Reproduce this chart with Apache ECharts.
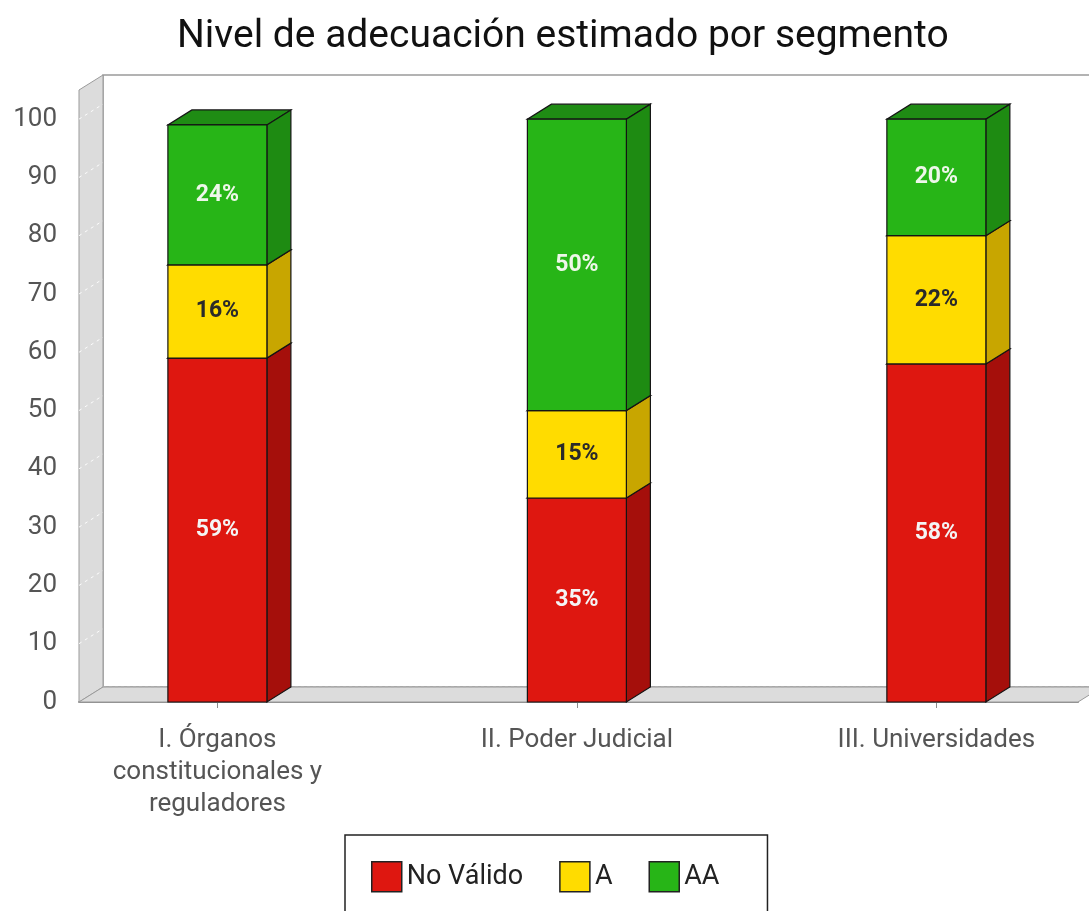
<!DOCTYPE html>
<html>
<head>
<meta charset="utf-8">
<title>Nivel de adecuación estimado por segmento</title>
<script src="https://cdn.jsdelivr.net/npm/echarts@6/dist/echarts.min.js"></script>
<style>
    html, body { margin: 0; padding: 0; background: #fff; }
    #chart { width: 1089px; height: 911px; }
</style>
</head>
<body>
<div id="chart"></div>
<script>
    // datos
    const categories = ['I. Órganos\nconstitucionales y\nreguladores', 'II. Poder Judicial', 'III. Universidades'];
    const seriesNames = ['No Válido', 'A', 'AA'];
    const noValido = [59, 35, 58];
    const nivelA = [16, 15, 22];
    const nivelAA = [24, 50, 20];
    const yTicks = [0, 10, 20, 30, 40, 50, 60, 70, 80, 90, 100];

    // estilo de las barras "3D"
    const FONT = 'Roboto, "Noto Sans", sans-serif';
    const BAR_W = 99;
    const DX = 24, DY = 15;
    const X_MIN = -0.385, X_MAX = 2.394, Y_MAX = 105;
    const palette = [
        { front: '#de1710', side: '#a50f0b', top: '#b8120d', label: '#f4f4f4' },
        { front: '#ffdc00', side: '#c8a600', top: '#d9b800', label: '#2a2a2a' },
        { front: '#27b517', side: '#1e8b12', top: '#1f8c14', label: '#eef7ea' }
    ];

    const levels = [noValido, nivelA, nivelAA];

    function stackData(idx) {
        return categories.map(function (c, i) {
            let start = 0;
            for (let k = 0; k < idx; k++) start += levels[k][i];
            return [i, start, start + levels[idx][i], levels[idx][i]];
        });
    }

    function renderBar(params, api) {
        const pal = palette[params.seriesIndex - 1];
        const lo = api.coord([api.value(0), api.value(1)]);
        const hi = api.coord([api.value(0), api.value(2)]);
        const l = lo[0] - BAR_W / 2, r = lo[0] + BAR_W / 2;
        const yb = lo[1], yt = hi[1];
        const edge = { stroke: '#141414', lineWidth: 1.2 };
        return {
            type: 'group',
            children: [
                { type: 'polygon', shape: { points: [[l, yt], [r, yt], [r + DX, yt - DY], [l + DX, yt - DY]] },
                  style: Object.assign({ fill: pal.top }, edge) },
                { type: 'polygon', shape: { points: [[r, yb], [r, yt], [r + DX, yt - DY], [r + DX, yb - DY]] },
                  style: Object.assign({ fill: pal.side }, edge) },
                { type: 'rect', shape: { x: l, y: yt, width: BAR_W, height: yb - yt },
                  style: Object.assign({ fill: pal.front }, edge) },
                { type: 'text', x: lo[0], y: (yb + yt) / 2,
                  style: { text: api.value(3) + '%', fill: pal.label, font: 'bold 23px ' + FONT,
                           align: 'center', verticalAlign: 'middle' } }
            ]
        };
    }

    function renderFrame(params, api) {
        const a = api.coord([X_MIN, 0]);
        const b = api.coord([X_MAX, 0]);
        const c = api.coord([X_MIN, Y_MAX]);
        const wall = { fill: '#dcdcdc', stroke: '#9a9a9a', lineWidth: 1 };
        const children = [
            { type: 'rect', shape: { x: c[0] + DX, y: c[1] - DY, width: b[0] - a[0], height: a[1] - c[1] },
              style: { fill: '#fff', stroke: '#9a9a9a', lineWidth: 1.5 } },
            { type: 'polygon', shape: { points: [a, c, [c[0] + DX, c[1] - DY], [a[0] + DX, a[1] - DY]] }, style: wall },
            { type: 'polygon', shape: { points: [a, b, [b[0] + DX, b[1] - DY], [a[0] + DX, a[1] - DY]] }, style: wall }
        ];
        yTicks.forEach(function (t) {
            if (t === 0) return;
            const p = api.coord([X_MIN, t]);
            children.push({ type: 'line', shape: { x1: p[0], y1: p[1], x2: p[0] + DX, y2: p[1] - DY },
                style: { stroke: 'rgba(255,255,255,0.9)', lineWidth: 1, lineDash: [3, 4] } });
        });
        children.push({ type: 'line', shape: { x1: a[0] + DX, y1: a[1] - DY, x2: b[0] + DX, y2: b[1] - DY },
            style: { stroke: '#b5b5b5', lineWidth: 1, lineDash: [3, 3] } });
        return { type: 'group', children: children };
    }

    const chart = echarts.init(document.getElementById('chart'));

    const series = [{
        name: 'frame',
        type: 'custom',
        silent: true,
        z: 1,
        renderItem: renderFrame,
        data: [[0, 0]],
        encode: { x: 0, y: 1 }
    }];
    seriesNames.forEach(function (name, idx) {
        series.push({
            name: name,
            type: 'custom',
            z: 2,
            renderItem: renderBar,
            itemStyle: { color: palette[idx].front },
            encode: { x: 0, y: [1, 2] },
            data: stackData(idx)
        });
    });

    chart.setOption({
        animation: false,
        title: {
            text: 'Nivel de adecuación estimado por segmento',
            left: 177,
            top: 18,
            padding: 0,
            textStyle: { fontFamily: FONT, fontSize: 39, fontWeight: 'normal', color: '#111' }
        },
        legend: {
            data: seriesNames,
            left: 345,
            top: 835,
            icon: 'rect',
            itemWidth: 30,
            itemHeight: 30,
            itemGap: 36,
            padding: [26, 48, 26, 26],
            borderColor: '#222',
            borderWidth: 1.5,
            itemStyle: { borderColor: '#222', borderWidth: 1.5 },
            textStyle: { fontFamily: FONT, fontSize: 27, color: '#222' }
        },
        grid: { left: 79, right: 11, top: 90, bottom: 209, containLabel: false },
        xAxis: {
            type: 'value',
            min: X_MIN,
            max: X_MAX,
            offset: 9,
            splitLine: { show: false },
            axisLine: { show: true, lineStyle: { color: '#8c8c8c', width: 2 } },
            axisTick: { show: true, length: 6, customValues: [0, 1, 2], lineStyle: { color: '#8c8c8c' } },
            axisLabel: {
                customValues: [0, 1, 2],
                formatter: function (v) { return categories[Math.round(v)]; },
                margin: 13,
                fontFamily: FONT,
                fontSize: 26,
                lineHeight: 32,
                color: '#555'
            }
        },
        yAxis: {
            type: 'value',
            min: 0,
            max: Y_MAX,
            offset: 8,
            splitLine: { show: false },
            axisLine: { show: true, lineStyle: { color: '#8c8c8c', width: 2 } },
            axisTick: { show: true, length: 5, customValues: yTicks, lineStyle: { color: '#8c8c8c' } },
            axisLabel: {
                customValues: yTicks,
                margin: 14,
                fontFamily: FONT,
                fontSize: 26,
                color: '#555'
            }
        },
        series: series
    });
</script>
</body>
</html>
